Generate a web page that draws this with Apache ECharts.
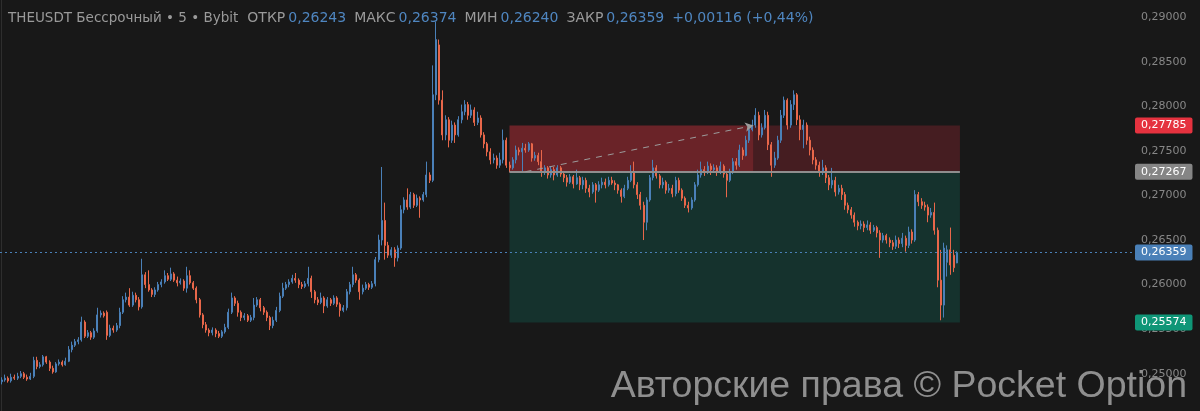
<!DOCTYPE html>
<html><head><meta charset="utf-8">
<script src="https://cdn.jsdelivr.net/npm/echarts@6/dist/echarts.min.js"></script>
<style>html,body{margin:0;padding:0;background:#181818;}#c{width:1200px;height:411px;}</style>
</head><body><div id="c"></div>
<script>
// Candles: [open, close, low, high]
const bars = [
[0.2491,0.2493,0.2488,0.2496],[0.2493,0.2495,0.2491,0.2499],[0.2495,0.2492,0.2490,0.2497],[0.2492,0.2496,0.2490,0.2500],[0.2496,0.2495,0.2493,0.2499],
[0.2495,0.2497,0.2493,0.2501],[0.2497,0.2500,0.2495,0.2503],[0.2500,0.2496,0.2494,0.2502],[0.2496,0.2494,0.2492,0.2499],[0.2494,0.2497,0.2493,0.2501],
[0.2497,0.2515,0.2495,0.2519],[0.2515,0.2508,0.2505,0.2519],[0.2508,0.2510,0.2506,0.2513],[0.2510,0.2519,0.2508,0.2521],[0.2519,0.2513,0.2511,0.2520],
[0.2513,0.2506,0.2503,0.2515],[0.2506,0.2502,0.2500,0.2509],[0.2502,0.2511,0.2501,0.2513],[0.2511,0.2513,0.2509,0.2516],[0.2513,0.2510,0.2508,0.2515],
[0.2510,0.2514,0.2509,0.2518],[0.2514,0.2527,0.2513,0.2531],[0.2527,0.2532,0.2524,0.2536],[0.2532,0.2536,0.2530,0.2539],[0.2536,0.2538,0.2533,0.2541],
[0.2538,0.2558,0.2536,0.2564],[0.2558,0.2542,0.2540,0.2560],[0.2542,0.2546,0.2540,0.2549],[0.2546,0.2541,0.2538,0.2548],[0.2541,0.2548,0.2539,0.2551],
[0.2548,0.2566,0.2546,0.2574],[0.2566,0.2568,0.2563,0.2571],[0.2568,0.2565,0.2563,0.2570],[0.2569,0.2543,0.2538,0.2571],[0.2543,0.2551,0.2541,0.2555],
[0.2551,0.2549,0.2546,0.2554],[0.2549,0.2554,0.2547,0.2557],[0.2554,0.2569,0.2551,0.2574],[0.2569,0.2583,0.2567,0.2587],[0.2583,0.2586,0.2580,0.2591],
[0.2586,0.2577,0.2575,0.2596],[0.2577,0.2588,0.2575,0.2592],[0.2588,0.2583,0.2580,0.2591],[0.2583,0.2575,0.2571,0.2586],[0.2575,0.2611,0.2573,0.2629],
[0.2611,0.2600,0.2596,0.2614],[0.2600,0.2594,0.2592,0.2616],[0.2594,0.2589,0.2586,0.2596],[0.2589,0.2594,0.2586,0.2597],[0.2594,0.2600,0.2592,0.2603],
[0.2600,0.2603,0.2597,0.2606],[0.2603,0.2610,0.2601,0.2616],[0.2610,0.2606,0.2604,0.2613],[0.2606,0.2612,0.2604,0.2619],[0.2612,0.2605,0.2603,0.2614],
[0.2605,0.2602,0.2598,0.2609],[0.2602,0.2604,0.2600,0.2607],[0.2604,0.2596,0.2593,0.2606],[0.2596,0.2610,0.2591,0.2620],[0.2610,0.2602,0.2600,0.2616],
[0.2602,0.2596,0.2594,0.2604],[0.2596,0.2583,0.2579,0.2598],[0.2583,0.2566,0.2563,0.2585],[0.2566,0.2555,0.2551,0.2568],[0.2555,0.2549,0.2546,0.2558],
[0.2549,0.2546,0.2542,0.2551],[0.2546,0.2549,0.2543,0.2552],[0.2549,0.2545,0.2541,0.2551],[0.2545,0.2542,0.2540,0.2548],[0.2542,0.2547,0.2540,0.2549],
[0.2547,0.2552,0.2545,0.2556],[0.2552,0.2569,0.2550,0.2573],[0.2569,0.2585,0.2567,0.2591],[0.2585,0.2579,0.2576,0.2587],[0.2579,0.2569,0.2564,0.2582],
[0.2569,0.2563,0.2559,0.2571],[0.2563,0.2565,0.2560,0.2568],[0.2565,0.2560,0.2558,0.2567],[0.2560,0.2563,0.2558,0.2566],[0.2563,0.2577,0.2560,0.2585],
[0.2577,0.2583,0.2575,0.2586],[0.2583,0.2574,0.2570,0.2585],[0.2574,0.2569,0.2566,0.2576],[0.2569,0.2563,0.2559,0.2571],[0.2563,0.2554,0.2549,0.2565],
[0.2554,0.2560,0.2551,0.2564],[0.2560,0.2571,0.2558,0.2575],[0.2571,0.2587,0.2569,0.2591],[0.2587,0.2596,0.2585,0.2602],[0.2596,0.2600,0.2594,0.2603],
[0.2600,0.2603,0.2597,0.2606],[0.2603,0.2607,0.2601,0.2611],[0.2607,0.2605,0.2602,0.2613],[0.2605,0.2600,0.2596,0.2607],[0.2600,0.2598,0.2595,0.2603],
[0.2598,0.2601,0.2596,0.2604],[0.2601,0.2607,0.2598,0.2620],[0.2607,0.2592,0.2585,0.2610],[0.2592,0.2583,0.2579,0.2594],[0.2583,0.2580,0.2577,0.2586],
[0.2580,0.2585,0.2578,0.2591],[0.2585,0.2576,0.2568,0.2587],[0.2576,0.2583,0.2574,0.2586],[0.2583,0.2579,0.2576,0.2585],[0.2579,0.2585,0.2577,0.2588],
[0.2585,0.2578,0.2575,0.2587],[0.2578,0.2571,0.2564,0.2580],[0.2571,0.2574,0.2569,0.2577],[0.2574,0.2592,0.2571,0.2595],[0.2592,0.2600,0.2589,0.2603],
[0.2600,0.2611,0.2597,0.2620],[0.2611,0.2605,0.2602,0.2613],[0.2605,0.2592,0.2583,0.2607],[0.2592,0.2596,0.2589,0.2600],[0.2596,0.2600,0.2594,0.2603],
[0.2600,0.2597,0.2594,0.2602],[0.2597,0.2601,0.2595,0.2604],[0.2601,0.2628,0.2598,0.2631],[0.2628,0.2650,0.2625,0.2656],[0.2650,0.2672,0.2644,0.2732],
[0.2672,0.2644,0.2628,0.2692],[0.2644,0.2633,0.2630,0.2648],[0.2633,0.2639,0.2630,0.2642],[0.2639,0.2630,0.2620,0.2642],[0.2630,0.2641,0.2626,0.2644],
[0.2641,0.2684,0.2639,0.2689],[0.2684,0.2695,0.2680,0.2698],[0.2695,0.2687,0.2684,0.2708],[0.2687,0.2701,0.2685,0.2704],[0.2701,0.2689,0.2686,0.2703],
[0.2689,0.2697,0.2687,0.2701],[0.2697,0.2695,0.2675,0.2699],[0.2695,0.2701,0.2693,0.2704],[0.2701,0.2723,0.2698,0.2738],[0.2723,0.2717,0.2714,0.2726],
[0.2717,0.2813,0.2715,0.2846],[0.2813,0.2875,0.2807,0.2895],[0.2869,0.2807,0.2802,0.2875],[0.2807,0.2768,0.2762,0.2818],[0.2768,0.2785,0.2762,0.2790],
[0.2785,0.2762,0.2754,0.2788],[0.2762,0.2779,0.2759,0.2784],[0.2779,0.2768,0.2759,0.2782],[0.2768,0.2785,0.2766,0.2789],[0.2785,0.2794,0.2781,0.2802],
[0.2794,0.2802,0.2790,0.2807],[0.2802,0.2790,0.2785,0.2805],[0.2790,0.2796,0.2787,0.2802],[0.2796,0.2782,0.2778,0.2799],[0.2782,0.2787,0.2779,0.2794],
[0.2787,0.2768,0.2765,0.2790],[0.2768,0.2758,0.2753,0.2771],[0.2758,0.2749,0.2744,0.2760],[0.2749,0.2740,0.2735,0.2753],[0.2740,0.2742,0.2736,0.2747],
[0.2742,0.2734,0.2730,0.2745],[0.2734,0.2740,0.2731,0.2748],[0.2740,0.2762,0.2736,0.2774],[0.2762,0.2734,0.2731,0.2765],[0.2734,0.2731,0.2726,0.2738],
[0.2731,0.2740,0.2729,0.2743],[0.2740,0.2751,0.2736,0.2756],[0.2751,0.2749,0.2745,0.2754],[0.2749,0.2753,0.2726,0.2759],[0.2753,0.2751,0.2748,0.2758],
[0.2751,0.2758,0.2749,0.2760],[0.2758,0.2742,0.2738,0.2759],[0.2742,0.2745,0.2739,0.2749],[0.2745,0.2738,0.2734,0.2748],[0.2738,0.2726,0.2721,0.2751],
[0.2726,0.2731,0.2723,0.2734],[0.2731,0.2723,0.2719,0.2733],[0.2723,0.2729,0.2720,0.2733],[0.2729,0.2723,0.2717,0.2732],[0.2723,0.2731,0.2721,0.2734],
[0.2731,0.2724,0.2721,0.2733],[0.2724,0.2720,0.2715,0.2726],[0.2720,0.2715,0.2710,0.2723],[0.2715,0.2721,0.2713,0.2724],[0.2721,0.2713,0.2708,0.2723],
[0.2713,0.2720,0.2712,0.2729],[0.2720,0.2712,0.2706,0.2722],[0.2712,0.2717,0.2707,0.2721],[0.2717,0.2708,0.2703,0.2720],[0.2708,0.2704,0.2698,0.2712],
[0.2704,0.2712,0.2702,0.2715],[0.2712,0.2706,0.2692,0.2714],[0.2706,0.2712,0.2704,0.2716],[0.2712,0.2715,0.2708,0.2720],[0.2715,0.2712,0.2708,0.2719],
[0.2712,0.2717,0.2710,0.2721],[0.2717,0.2714,0.2712,0.2721],[0.2714,0.2712,0.2706,0.2717],[0.2712,0.2706,0.2702,0.2713],[0.2706,0.2699,0.2692,0.2708],
[0.2699,0.2708,0.2697,0.2712],[0.2708,0.2717,0.2706,0.2721],[0.2717,0.2726,0.2715,0.2734],[0.2726,0.2712,0.2708,0.2738],[0.2712,0.2701,0.2696,0.2715],
[0.2701,0.2689,0.2684,0.2704],[0.2689,0.2670,0.2650,0.2693],[0.2670,0.2695,0.2661,0.2698],[0.2695,0.2720,0.2693,0.2723],[0.2720,0.2731,0.2717,0.2740],
[0.2731,0.2722,0.2719,0.2734],[0.2722,0.2712,0.2708,0.2724],[0.2712,0.2715,0.2708,0.2720],[0.2715,0.2706,0.2702,0.2717],[0.2706,0.2708,0.2703,0.2713],
[0.2708,0.2702,0.2698,0.2712],[0.2702,0.2717,0.2699,0.2721],[0.2717,0.2706,0.2703,0.2720],[0.2706,0.2697,0.2694,0.2708],[0.2697,0.2689,0.2686,0.2699],
[0.2689,0.2686,0.2681,0.2693],[0.2686,0.2695,0.2684,0.2698],[0.2695,0.2712,0.2693,0.2715],[0.2712,0.2723,0.2710,0.2729],[0.2723,0.2729,0.2720,0.2738],
[0.2729,0.2726,0.2722,0.2733],[0.2726,0.2733,0.2724,0.2738],[0.2733,0.2729,0.2723,0.2736],[0.2729,0.2731,0.2726,0.2735],[0.2731,0.2726,0.2722,0.2734],
[0.2726,0.2733,0.2724,0.2738],[0.2733,0.2724,0.2720,0.2735],[0.2724,0.2717,0.2698,0.2726],[0.2717,0.2726,0.2715,0.2730],[0.2726,0.2738,0.2724,0.2742],
[0.2738,0.2734,0.2729,0.2742],[0.2734,0.2751,0.2732,0.2757],[0.2751,0.2745,0.2740,0.2754],[0.2745,0.2762,0.2744,0.2767],[0.2762,0.2774,0.2759,0.2779],
[0.2774,0.2779,0.2772,0.2785],[0.2779,0.2790,0.2776,0.2798],[0.2790,0.2768,0.2762,0.2794],[0.2768,0.2776,0.2765,0.2781],[0.2776,0.2790,0.2774,0.2796],
[0.2790,0.2757,0.2751,0.2794],[0.2757,0.2734,0.2721,0.2760],[0.2734,0.2742,0.2731,0.2749],[0.2742,0.2762,0.2740,0.2767],[0.2762,0.2790,0.2759,0.2796],
[0.2790,0.2807,0.2787,0.2811],[0.2807,0.2779,0.2774,0.2809],[0.2779,0.2802,0.2776,0.2807],[0.2802,0.2813,0.2796,0.2818],[0.2813,0.2785,0.2779,0.2815],
[0.2785,0.2774,0.2762,0.2790],[0.2774,0.2779,0.2753,0.2785],[0.2779,0.2762,0.2757,0.2782],[0.2762,0.2751,0.2745,0.2766],[0.2751,0.2740,0.2735,0.2754],
[0.2740,0.2734,0.2729,0.2743],[0.2734,0.2726,0.2721,0.2738],[0.2726,0.2731,0.2723,0.2740],[0.2731,0.2720,0.2714,0.2734],[0.2720,0.2712,0.2706,0.2723],
[0.2712,0.2717,0.2708,0.2731],[0.2717,0.2704,0.2699,0.2721],[0.2704,0.2708,0.2701,0.2712],[0.2708,0.2701,0.2695,0.2712],[0.2701,0.2689,0.2684,0.2704],
[0.2689,0.2684,0.2680,0.2692],[0.2684,0.2678,0.2674,0.2687],[0.2678,0.2670,0.2665,0.2681],[0.2670,0.2666,0.2661,0.2672],[0.2666,0.2668,0.2662,0.2672],
[0.2668,0.2664,0.2659,0.2671],[0.2664,0.2667,0.2661,0.2672],[0.2667,0.2661,0.2657,0.2670],[0.2661,0.2664,0.2659,0.2667],[0.2664,0.2658,0.2653,0.2666],
[0.2658,0.2650,0.2630,0.2661],[0.2650,0.2655,0.2647,0.2658],[0.2655,0.2650,0.2646,0.2657],[0.2650,0.2647,0.2642,0.2653],[0.2647,0.2643,0.2639,0.2650],
[0.2643,0.2650,0.2640,0.2655],[0.2650,0.2646,0.2641,0.2653],[0.2646,0.2652,0.2642,0.2658],[0.2652,0.2644,0.2637,0.2655],[0.2644,0.2659,0.2641,0.2665],
[0.2659,0.2650,0.2646,0.2662],[0.2650,0.2701,0.2648,0.2706],[0.2701,0.2693,0.2688,0.2704],[0.2693,0.2689,0.2685,0.2697],[0.2689,0.2687,0.2683,0.2693],
[0.2687,0.2678,0.2670,0.2690],[0.2678,0.2681,0.2675,0.2686],[0.2681,0.2661,0.2656,0.2692],[0.2661,0.2605,0.2597,0.2664],[0.2605,0.2577,0.2560,0.2639],
[0.2577,0.2641,0.2563,0.2647],[0.2625,0.2639,0.2609,0.2644],[0.2639,0.2622,0.2611,0.2664],[0.2633,0.2619,0.2614,0.2639],[0.26243,0.26359,0.26240,0.26374]
];

// Position tool (short): prices and bar span
const entryPrice = 0.27267;
const stopPrice = 0.27785;
const targetPrice = 0.25574;
const positionBars = [159, 300];
const stopHitBar = 235.3;
const arrowStartBar = 164;

// Axis
const slotCount = 355;
const yMin = 0.245814;
const yMax = 0.29194;
const yStep = 0.005;

// Header text
const symbolText = 'THEUSDT Бессрочный • 5 • Bybit';
const headerLabels = ['ОТКР', 'МАКС', 'МИН', 'ЗАКР'];
const watermark = 'Авторские права © Pocket Option';

const upColor = '#4a80b8', downColor = '#e8674a';
const FONT = 'DejaVu Sans';
const fmt = v => v.toFixed(5).replace('.', ',');

const last = bars[bars.length - 1];
const lastOpen = last[0], lastClose = last[1], lastLow = last[2], lastHigh = last[3];
const chg = lastClose - lastOpen;
const chgPct = chg / lastOpen * 100;
const headerRich = '{sym|' + symbolText + '}' +
  '{g|' + headerLabels[0] + '}{v|' + fmt(lastOpen) + '}' +
  '{g|' + headerLabels[1] + '}{v|' + fmt(lastHigh) + '}' +
  '{g|' + headerLabels[2] + '}{v|' + fmt(lastLow) + '}' +
  '{g|' + headerLabels[3] + '}{v|' + fmt(lastClose) + '}' +
  '{c|+' + fmt(chg) + ' (+' + chgPct.toFixed(2).replace('.', ',') + '%)}';

const xLeft = -0.5, xRight = slotCount - 0.5;
const hidden = {color: 'rgba(0,0,0,0)', width: 0};
function priceLine(price, bg, lineStyle) {
  return [
    {coord: [xLeft, price], symbol: 'none', lineStyle: lineStyle,
     label: {
       show: true, position: 'end', distance: 1, formatter: fmt(price),
       color: '#ffffff', backgroundColor: bg, padding: [2, 6, 2, 6], opacity: 1,
       borderRadius: 2, fontSize: 11, lineHeight: 12, fontFamily: FONT
     }},
    {coord: [xRight, price], symbol: 'none'}
  ];
}

const chart = echarts.init(document.getElementById('c'), null, {renderer: 'canvas'});
chart.setOption({
  animation: false,
  backgroundColor: '#181818',
  textStyle: {fontFamily: FONT},
  grid: {left: 0, right: 66, top: 0, bottom: 0},
  xAxis: [
    {type: 'category', min: 0, max: slotCount - 1, show: false, boundaryGap: true},
    {type: 'value', min: xLeft, max: xRight, show: false}
  ],
  yAxis: {
    type: 'value', position: 'right', min: yMin, max: yMax,
    minInterval: yStep, maxInterval: yStep, splitNumber: 9,
    splitLine: {show: false}, axisTick: {show: false},
    axisLine: {show: true, lineStyle: {color: '#2e2e2e', width: 1}},
    axisLabel: {color: '#878787', fontSize: 11, fontFamily: FONT, margin: 7, showMinLabel: false, showMaxLabel: false, formatter: fmt}
  },
  series: [
    {
      type: 'candlestick', data: bars, barWidth: 1.5, z: 2,
      itemStyle: {color: upColor, color0: downColor, borderColor: upColor, borderColor0: downColor, borderWidth: 1}
    },
    {
      type: 'line', xAxisIndex: 1, data: [], z: 3, silent: true,
      markArea: {
        silent: true,
        data: [
          [{xAxis: positionBars[0], yAxis: stopPrice, itemStyle: {color: 'rgba(242,54,69,0.38)'}}, {xAxis: stopHitBar, yAxis: entryPrice}],
          [{xAxis: stopHitBar, yAxis: stopPrice, itemStyle: {color: 'rgba(242,54,69,0.21)'}}, {xAxis: positionBars[1], yAxis: entryPrice}],
          [{xAxis: positionBars[0], yAxis: entryPrice, itemStyle: {color: 'rgba(8,153,129,0.2)'}}, {xAxis: positionBars[1], yAxis: targetPrice}]
        ]
      },
      markLine: {
        silent: true, animation: false,
        label: {show: false},
        data: [
          [{coord: [positionBars[0], entryPrice], symbol: 'none', lineStyle: {color: '#8e8e8e', width: 2, type: 'solid'}},
           {coord: [positionBars[1], entryPrice], symbol: 'none'}],
          [{coord: [arrowStartBar, entryPrice], symbol: 'none', lineStyle: {color: '#9c9c9c', width: 1, type: [6, 6]}},
           {coord: [stopHitBar, stopPrice], symbol: 'arrow', symbolSize: [7, 8]}],
          priceLine(lastClose, '#4a80b8', {color: '#4a80b8', type: [2, 3], width: 1}),
          priceLine(stopPrice, '#e5323f', hidden),
          priceLine(entryPrice, '#858585', hidden),
          priceLine(targetPrice, '#0f9677', hidden)
        ]
      }
    }
  ],
  graphic: [
    {
      type: 'text', left: 8, top: 11, z: 10,
      style: {
        text: headerRich, fontSize: 14, fontFamily: FONT,
        rich: {
          sym: {fill: '#9a9a9a', fontSize: 13.5, fontFamily: FONT, padding: [0, 9, 0, 0]},
          g: {fill: '#9a9a9a', fontSize: 14, fontFamily: FONT, padding: [0, 3, 0, 0]},
          v: {fill: '#4f86c0', fontSize: 14, fontFamily: FONT, padding: [0, 8, 0, 0]},
          c: {fill: '#4f86c0', fontSize: 14, fontFamily: FONT}
        }
      }
    },
    {
      type: 'text', right: 13, bottom: 5, z: 10,
      style: {text: watermark, fill: '#8f8f8f', fontSize: 37.5, fontFamily: 'Liberation Sans'}
    }
  ]
});
</script>
</body></html>
